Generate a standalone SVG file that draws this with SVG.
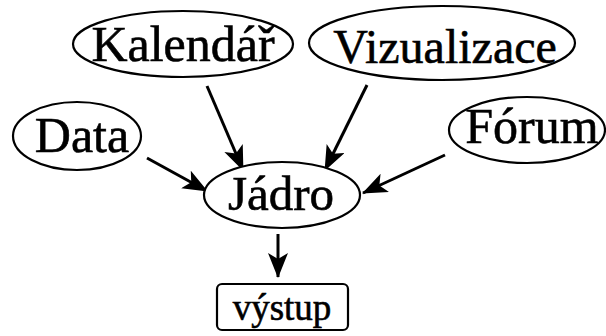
<svg xmlns="http://www.w3.org/2000/svg" width="606" height="336" viewBox="0 0 606 336">
<style>
.n{fill:#fff;stroke:#000;stroke-width:2.2}
.t{font-family:'Liberation Serif','Times New Roman',serif;fill:#000;stroke:#000;stroke-width:0.6;text-anchor:middle}
.e{stroke:#000;stroke-width:3;fill:none}
</style>
<defs>
<marker id="ah" markerUnits="userSpaceOnUse" markerWidth="26" markerHeight="22" refX="24" refY="10" orient="auto" viewBox="0 0 26 22">
<path d="M0,0 L25,10 L0,20 L6,10 z" fill="#000"/>
</marker>
</defs>
<rect width="606" height="336" fill="#fff"/>
<g id="connectors">
<line class="e" x1="207" y1="86" x2="243" y2="170" marker-end="url(#ah)"/>
<line class="e" x1="367" y1="85" x2="325" y2="170" marker-end="url(#ah)"/>
<line class="e" x1="147" y1="158" x2="207" y2="191" marker-end="url(#ah)"/>
<line class="e" x1="445" y1="155" x2="363" y2="193" marker-end="url(#ah)"/>
<line class="e" x1="278" y1="234" x2="278" y2="277" marker-end="url(#ah)"/>
</g>
<g id="kalendar">
<ellipse class="n" cx="183" cy="44" rx="110" ry="33"/>
<text class="t" x="183" y="61" font-size="50">Kalendář</text>
</g>
<g id="vizualizace">
<ellipse class="n" cx="442" cy="43" rx="133" ry="37"/>
<text class="t" x="445" y="63" font-size="48">Vizualizace</text>
</g>
<g id="data">
<ellipse class="n" cx="77" cy="136" rx="64" ry="34"/>
<text class="t" x="82" y="152" font-size="50">Data</text>
</g>
<g id="forum">
<ellipse class="n" cx="527" cy="130" rx="78" ry="33"/>
<text class="t" x="532" y="143" font-size="50">Fórum</text>
</g>
<g id="jadro">
<ellipse class="n" cx="282" cy="195" rx="78" ry="33"/>
<text class="t" x="281" y="210" font-size="49">Jádro</text>
</g>
<g id="vystup">
<rect class="n" x="217" y="284" width="131" height="46" rx="5"/>
<text class="t" x="282" y="320" font-size="37">výstup</text>
</g>
</svg>
